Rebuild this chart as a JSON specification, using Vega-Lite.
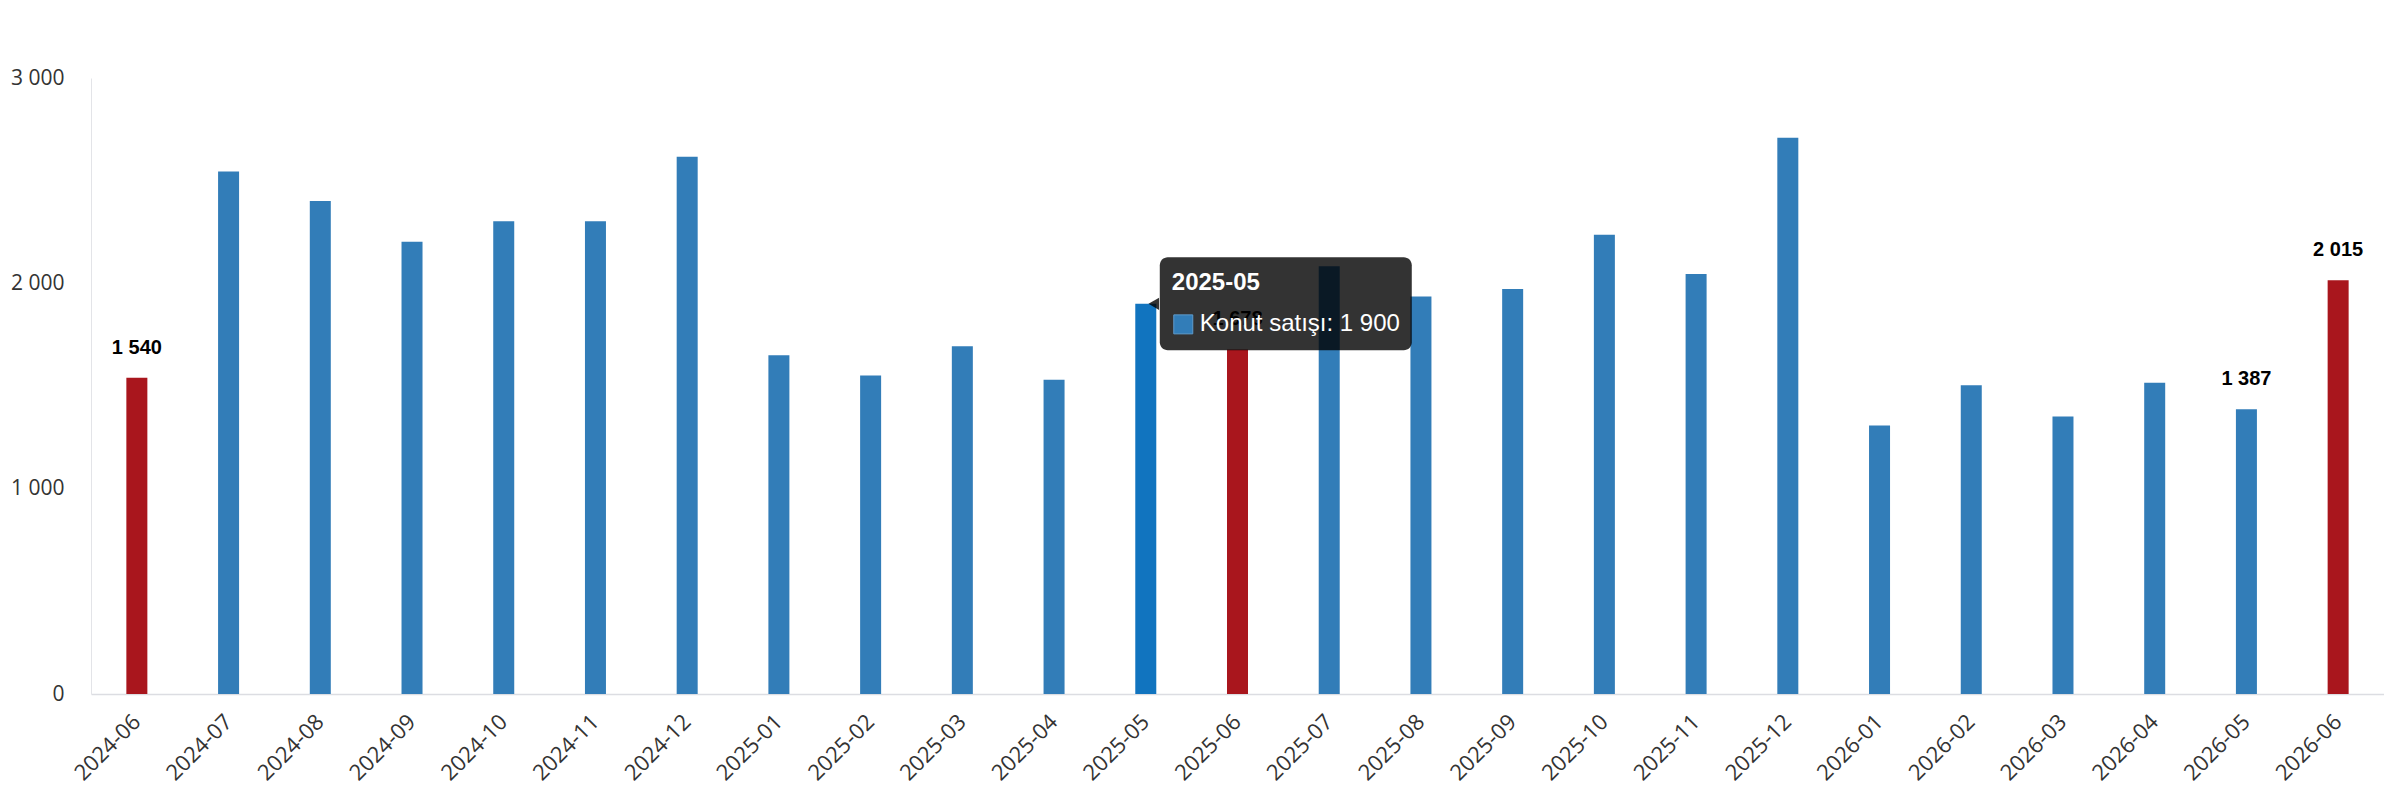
{
  "$schema": "https://vega.github.io/schema/vega-lite/v6.json",
  "autosize": {"type": "none"},
  "padding": {"left": 91, "top": 78, "right": 0, "bottom": 106},
  "width": 2293,
  "height": 616,
  "background": "white",
  "config": {
    "view": {"stroke": null},
    "locale": {
      "number": {"decimal": ",", "thousands": " ", "grouping": [3], "currency": ["", ""]}
    }
  },
  "datasets": {
    "sales": [
      {"month": "2024-06", "value": 1540},
      {"month": "2024-07", "value": 2545},
      {"month": "2024-08", "value": 2401},
      {"month": "2024-09", "value": 2202},
      {"month": "2024-10", "value": 2302},
      {"month": "2024-11", "value": 2302},
      {"month": "2024-12", "value": 2617},
      {"month": "2025-01", "value": 1650},
      {"month": "2025-02", "value": 1551},
      {"month": "2025-03", "value": 1693},
      {"month": "2025-04", "value": 1531},
      {"month": "2025-05", "value": 1900},
      {"month": "2025-06", "value": 1678},
      {"month": "2025-07", "value": 2083},
      {"month": "2025-08", "value": 1936},
      {"month": "2025-09", "value": 1973},
      {"month": "2025-10", "value": 2237},
      {"month": "2025-11", "value": 2045},
      {"month": "2025-12", "value": 2709},
      {"month": "2026-01", "value": 1308},
      {"month": "2026-02", "value": 1504},
      {"month": "2026-03", "value": 1352},
      {"month": "2026-04", "value": 1516},
      {"month": "2026-05", "value": 1387},
      {"month": "2026-06", "value": 2015}
    ],
    "hover": [
      {"month": "2025-05", "series": "Konut satışı", "value": 1900}
    ]
  },
  "data": {"name": "sales"},
  "encoding": {
    "x": {
      "field": "month",
      "type": "ordinal",
      "title": null,
      "scale": {"paddingInner": 0.771, "paddingOuter": 0.3855},
      "axis": {
        "labelAngle": -45,
        "labelAlign": "right",
        "labelBaseline": "middle",
        "labelPadding": 24,
        "labelFont": "Open Sans",
        "labelFontSize": 22,
        "labelColor": "#333333",
        "labelOverlap": false,
        "ticks": false,
        "domainColor": "#dcdde2",
        "domainWidth": 1.5
      }
    },
    "y": {
      "field": "value",
      "type": "quantitative",
      "title": null,
      "scale": {"domain": [0, 3000], "nice": false},
      "axis": {
        "values": [0, 1000, 2000, 3000],
        "format": ",d",
        "grid": false,
        "ticks": false,
        "labelPadding": 27,
        "labelFont": "Open Sans",
        "labelFontSize": 21,
        "labelColor": "#333333",
        "domainColor": "#e3e4e8",
        "domainWidth": 1
      }
    }
  },
  "layer": [
    {
      "mark": {"type": "bar"},
      "encoding": {
        "color": {
          "condition": [
            {"test": "slice(datum.month, 5) == '06'", "value": "#a9161d"},
            {"test": "datum.month == '2025-05'", "value": "#1174bf"}
          ],
          "value": "#327db8"
        }
      }
    },
    {
      "transform": [{"filter": "slice(datum.month, 5) == '06' || datum.month == '2026-05'"}],
      "mark": {"type": "text", "font": "Liberation Sans", "fontSize": 20, "fontWeight": "bold", "color": "#000000", "baseline": "middle", "dy": -30},
      "encoding": {
        "text": {"field": "value", "type": "quantitative", "format": ",d"}
      }
    },
    {
      "data": {"name": "hover"},
      "mark": {"type": "rect", "color": "#000000", "opacity": 0.8, "cornerRadius": 8, "width": 252, "height": 93, "xOffset": 140},
      "encoding": {}
    },
    {
      "data": {"name": "hover"},
      "mark": {"type": "point", "shape": "triangle-left", "filled": true, "color": "#000000", "opacity": 0.8, "size": 150, "xOffset": 8},
      "encoding": {}
    },
    {
      "data": {"name": "hover"},
      "mark": {"type": "text", "font": "Liberation Sans", "fontSize": 24, "fontWeight": "bold", "color": "#ffffff", "align": "left", "baseline": "middle", "dx": 26, "dy": -21},
      "encoding": {"text": {"field": "month"}}
    },
    {
      "data": {"name": "hover"},
      "mark": {"type": "point", "shape": "square", "filled": true, "color": "#327db8", "opacity": 1, "size": 361, "xOffset": 37.5, "yOffset": 20.5, "stroke": "#5e9bcb", "strokeWidth": 1},
      "encoding": {}
    },
    {
      "data": {"name": "hover"},
      "transform": [{"calculate": "datum.series + ': ' + format(datum.value, ',d')", "as": "line"}],
      "mark": {"type": "text", "font": "Liberation Sans", "fontSize": 24, "color": "#ffffff", "align": "left", "baseline": "middle", "dx": 54, "dy": 20.5},
      "encoding": {"text": {"field": "line"}}
    }
  ]
}
